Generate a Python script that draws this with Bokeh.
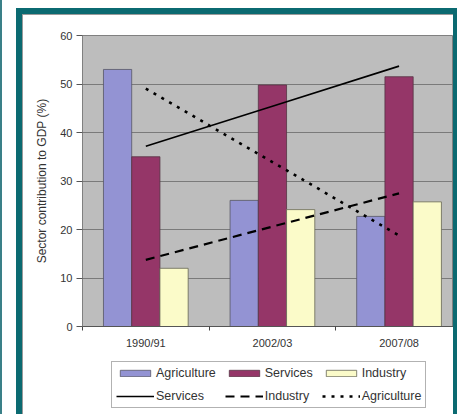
import numpy as np
from bokeh.plotting import figure
from bokeh.models import FixedTicker, Legend, LegendItem, Range1d, Spacer
from bokeh.layouts import column, row
from bokeh.embed import file_html
from bokeh.resources import INLINE

# ---- data ----
categories = ["1990/91", "2002/03", "2007/08"]
agriculture = [53.0, 26.0, 22.7]
services = [35.0, 49.8, 51.5]
industry = [12.0, 24.1, 25.7]
y_ticks = [0, 10, 20, 30, 40, 50, 60]

# ---- styling ----
FONT = "Liberation Sans"
TEAL = "#0b6a71"
EDGE = "#3a8088"
LINE_GRAY = "#9a9a9a"
C_AGR = "#9393d3"
C_SER = "#953668"
C_IND = "#fbfbc9"
BG = "#bdbdbd"
GRID = "#7a7a7a"
BAR_STYLES = [dict(fill_color=C_AGR, line_color="#555566"),
              dict(fill_color=C_SER, line_color="#553344"),
              dict(fill_color=C_IND, line_color="#666655")]
LINE_STYLES = [dict(line_color="black", line_width=1.6),
               dict(line_color="black", line_width=2.2, line_dash="9 6"),
               dict(line_color="black", line_width=2.6, line_dash="3 6")]

idx = np.arange(1, len(categories) + 1)
bw = 0.223

def trend(vals):
    k, b = np.polyfit(idx, vals, 1)
    return k * idx + b

def draw(fig):
    bars = [fig.vbar(x=idx + off, top=vals, width=bw, line_width=0.8, **st)
            for off, vals, st in zip((-bw, 0, bw),
                                     (agriculture, services, industry),
                                     BAR_STYLES)]
    lines = [fig.line(idx, trend(vals), **st)
             for vals, st in zip((services, industry, agriculture), LINE_STYLES)]
    return bars, lines

p = figure(width=430, height=343, output_backend="svg", toolbar_location=None,
           x_range=Range1d(0.5, 3.43), y_range=Range1d(0, 60),
           min_border_left=59, min_border_right=0, min_border_top=20,
           min_border_bottom=32)
p.background_fill_color = BG
p.border_fill_color = "white"
p.outline_line_color = "#808080"
p.outline_line_width = 1
draw(p)

# grid
p.xgrid.grid_line_color = None
p.ygrid.grid_line_color = GRID
p.ygrid.grid_line_width = 1.2
p.ygrid.ticker = FixedTicker(ticks=y_ticks)

# y axis
ya = p.yaxis[0]
ya.ticker = FixedTicker(ticks=y_ticks)
ya.axis_label = "Sector contribution to GDP (%)"
ya.axis_label_text_font = FONT
ya.axis_label_text_font_size = "12px"
ya.axis_label_text_font_style = "normal"
ya.axis_label_text_color = "#333333"
ya.axis_label_standoff = 8
ya.major_label_text_font = FONT
ya.major_label_text_font_size = "11px"
ya.major_label_text_color = "#333333"
ya.axis_line_color = "#808080"
ya.major_tick_line_color = "#555555"
ya.major_tick_out = 6
ya.major_tick_in = 0
ya.minor_tick_line_color = None
ya.major_label_standoff = 4

# x axis
xa = p.xaxis[0]
xa.ticker = FixedTicker(ticks=list(idx), minor_ticks=list(idx - 0.5) + [idx[-1] + 0.5])
xa.major_label_overrides = {int(i): c for i, c in zip(idx, categories)}
xa.major_label_text_font = FONT
xa.major_label_text_font_size = "11px"
xa.major_label_text_color = "#333333"
xa.major_tick_line_color = None
xa.minor_tick_line_color = "#444444"
xa.minor_tick_out = 4
xa.minor_tick_in = 0
xa.axis_line_color = "#555555"
xa.axis_line_width = 1.2
xa.major_label_standoff = 4

# ---- legend panel: same series drawn out of view, legend in view ----
q = figure(width=430, height=56, output_backend="svg", toolbar_location=None,
           x_range=Range1d(0.5, 3.43), y_range=Range1d(1000, 1001),
           x_axis_location=None, y_axis_location=None,
           min_border=0, min_border_left=0, min_border_right=0,
           min_border_top=0, min_border_bottom=0)
q.grid.visible = False
q.outline_line_color = None
q.background_fill_color = "white"
q.border_fill_color = "white"
lb, ll = draw(q)

legend = Legend(items=[
    LegendItem(label="Agriculture", renderers=[lb[0]]),
    LegendItem(label="Services", renderers=[lb[1]]),
    LegendItem(label="Industry", renderers=[lb[2]]),
    LegendItem(label="Services", renderers=[ll[0]]),
    LegendItem(label="Industry", renderers=[ll[1]]),
    LegendItem(label="Agriculture", renderers=[ll[2]]),
], location=(29, 6), orientation="horizontal", nrows=2)
legend.label_text_font = FONT
legend.label_text_font_size = "12.5px"
legend.label_text_color = "#333333"
legend.glyph_width = 38
legend.glyph_height = 8
legend.label_height = 13
legend.label_standoff = 2
legend.spacing = 9
legend.padding = 4
legend.margin = 0
legend.border_line_color = "#666666"
legend.border_line_width = 1
legend.background_fill_color = "white"
legend.background_fill_alpha = 1
q.add_layout(legend, "center")

def block(w, h, color):
    return Spacer(width=w, height=h, styles={"background-color": color})

inner = column(block(431, 1, LINE_GRAY), row(block(1, 399, LINE_GRAY), column(p, q)))
body = row(block(6, 400, TEAL), inner, block(4, 400, TEAL))
frame = column(block(441, 6, TEAL), body)
framed = column(Spacer(width=441, height=8), frame)
root = row(block(2, 414, EDGE), Spacer(width=14, height=414), framed)

open("out.html", "w").write(file_html(root, INLINE))
